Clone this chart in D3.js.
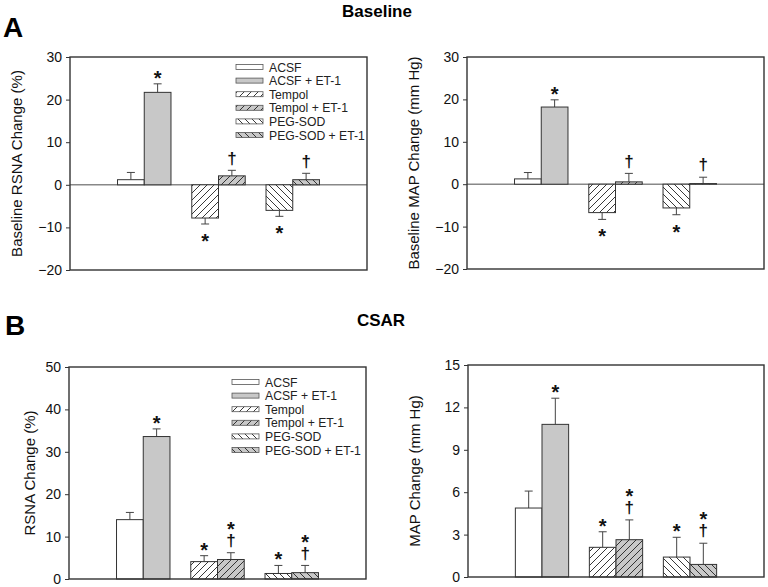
<!DOCTYPE html>
<html><head><meta charset="utf-8">
<script src="https://cdn.jsdelivr.net/npm/d3@7"></script>
<style>
body{margin:0;background:#fff}
#wrap{position:relative;width:768px;height:587px}
svg{display:block;font-family:"Liberation Sans",Arial,sans-serif}
.mk{position:absolute;width:40px;text-align:center;white-space:pre;font-family:"Liberation Sans",Arial,sans-serif;
  font-weight:bold;color:#111;font-size:17px;line-height:12px}
.mk.sf::first-line{font-size:20px}
</style>
</head><body><div id="wrap"><svg id="c" width="768" height="587"></svg></div>
<script>
// ---- data ----
const categories = ["ACSF","ACSF + ET-1","Tempol","Tempol + ET-1","PEG-SOD","PEG-SOD + ET-1"];
const fills = ["white","gray","fwdWhite","fwdGray","bwdWhite","bwdGray"];

const baseRsna = [1.2, 21.7, -7.8, 2.1, -6.0, 1.2];
const baseRsnaErr = [1.7, 2.0, 1.4, 1.3, 1.4, 1.5];
const baseRsnaMarks = ["", "*", "*", "†", "*", "†"];

const baseMap = [1.25, 18.2, -6.7, 0.55, -5.6, 0.15];
const baseMapErr = [1.5, 1.7, 1.6, 2.0, 1.6, 1.5];
const baseMapMarks = ["", "*", "*", "†", "*", "†"];

const csarRsna = [14.0, 33.6, 4.1, 4.6, 1.3, 1.5];
const csarRsnaErr = [1.7, 1.8, 1.4, 1.6, 1.9, 1.7];
const csarRsnaMarks = ["", "*", "*", "*†", "*", "*†"];

const csarMap = [4.88, 10.8, 2.1, 2.64, 1.41, 0.89];
const csarMapErr = [1.2, 1.85, 1.1, 1.4, 1.4, 1.5];
const csarMapMarks = ["", "*", "*", "*†", "*", "*†"];

const ticksBase = [-20, -10, 0, 10, 20, 30];
const ticksCsarRsna = [0, 10, 20, 30, 40, 50];
const ticksCsarMap = [0, 3, 6, 9, 12, 15];

// ---- drawing ----
const svg = d3.select("#c");
const wrap = d3.select("#wrap");
const defs = svg.append("defs");
function hatch(id, bg, dir){
  const p = defs.append("pattern").attr("id", id).attr("patternUnits","userSpaceOnUse")
    .attr("width", 7).attr("height", 7);
  p.append("rect").attr("width",7).attr("height",7).attr("fill",bg);
  const d = dir > 0 ? "M-1,1 L1,-1 M0,7 L7,0 M6,8 L8,6" : "M-1,6 L1,8 M0,0 L7,7 M6,-1 L8,1";
  p.append("path").attr("d", d).attr("stroke","#222").attr("stroke-width",0.9);
}
const GRAY = "#c8c8c8";
hatch("fwdWhite","#fff",1); hatch("fwdGray",GRAY,1);
hatch("bwdWhite","#fff",-1); hatch("bwdGray",GRAY,-1);
function fillOf(k){ return k==="white"?"#fff":k==="gray"?GRAY:`url(#${k})`; }

// glyph-center offset inside a 12px line box (Liberation Sans metrics)
const LH = 12;
function glyphOff(ch, firstLineStar){
  const fs = (ch==="*" && firstLineStar) ? 20 : 17;
  const base = (LH - 1.117*fs)/2 + 0.905*fs;
  return ch==="*" ? base - 0.59*fs : base - 0.3*fs;
}

function panel(o){
  const {x0,x1,y0,y1,domain,ticks,vals,errs,marks,label,legend} = o;
  const g = svg.append("g");
  const x = d3.scaleLinear().domain([0,4]).range([x0,x1]);
  const y = d3.scaleLinear().domain(domain).range([y1,y0]);
  const bw = x(0.36) - x(0);
  // y axis
  const ax = g.append("g").attr("transform",`translate(${x0},0)`)
    .call(d3.axisLeft(y).tickValues(ticks).tickSize(4).tickPadding(4));
  ax.select(".domain").remove();
  ax.selectAll("line").attr("stroke","#333");
  ax.selectAll("text").attr("font-size",14).attr("fill","#111").attr("font-family","Liberation Sans, Arial");
  // zero line
  if (domain[0] < 0) g.append("line").attr("x1",x0).attr("x2",x1).attr("y1",y(0)).attr("y2",y(0))
    .attr("stroke","#888").attr("stroke-width",1.5);
  // bars
  vals.forEach((v,i)=>{
    const grp = Math.floor(i/2)+1, side = i%2;
    const bx = side===0 ? x(grp)-bw : x(grp);
    const top = Math.min(y(v), y(0)), h = Math.abs(y(v)-y(0));
    const cx = bx + bw/2;
    const cap = y(v + (v>=0?1:-1)*errs[i]);
    g.append("line").attr("x1",cx).attr("x2",cx).attr("y1",y(v)).attr("y2",cap).attr("stroke","#444").attr("stroke-width",1);
    g.append("line").attr("x1",cx-4).attr("x2",cx+4).attr("y1",cap).attr("y2",cap).attr("stroke","#444").attr("stroke-width",1);
    g.append("rect").attr("x",bx).attr("y",top).attr("width",bw).attr("height",h)
      .attr("fill",fillOf(fills[i])).attr("stroke","#333").attr("stroke-width",1);
    // marks: one text block, symbols stacked (first char on top)
    const m = marks[i];
    if (m){
      const chars = m.split("");
      const sf = chars[0]==="*";
      const n = chars.length;
      let T;
      if (v >= 0) {
        const bottomC = cap - 11;
        T = bottomC - (n-1)*LH - glyphOff(chars[n-1], sf && n===1);
      } else {
        const topC = cap + 12;
        T = topC - glyphOff(chars[0], sf);
      }
      wrap.append("div").attr("class", "mk" + (sf ? " sf" : ""))
        .style("left", (cx-20)+"px").style("top", T+"px").text(chars.join("\n"));
    }
  });
  // frame
  g.append("rect").attr("x",x0).attr("y",y0).attr("width",x1-x0).attr("height",y1-y0)
    .attr("fill","none").attr("stroke","#333").attr("stroke-width",1.4);
  // y label
  g.append("text").attr("transform",`translate(${o.lx},${(y0+y1)/2}) rotate(-90)`)
    .attr("text-anchor","middle").attr("font-size",15).attr("fill","#111").text(label);
  // legend
  if (legend){
    categories.forEach((c,i)=>{
      const ly = legend.y + i*13.6;
      g.append("rect").attr("x",legend.x).attr("y",ly-2.5).attr("width",27).attr("height",5)
        .attr("fill",fillOf(fills[i])).attr("stroke","#555").attr("stroke-width",0.8);
      g.append("text").attr("x",legend.x+33).attr("y",ly+4.5).attr("font-size",12.2).attr("fill","#222").text(c);
    });
  }
}

panel({x0:70,x1:367,y0:57,y1:270,domain:[-20,30],ticks:ticksBase,vals:baseRsna,errs:baseRsnaErr,marks:baseRsnaMarks,
  label:"Baseline RSNA Change (%)",lx:22,legend:{x:236,y:67}});
panel({x0:467,x1:764,y0:57,y1:269,domain:[-20,30],ticks:ticksBase,vals:baseMap,errs:baseMapErr,marks:baseMapMarks,
  label:"Baseline MAP Change (mm Hg)",lx:419});
panel({x0:69,x1:366,y0:367,y1:579,domain:[0,50],ticks:ticksCsarRsna,vals:csarRsna,errs:csarRsnaErr,marks:csarRsnaMarks,
  label:"RSNA Change (%)",lx:35,legend:{x:232,y:382}});
panel({x0:468,x1:764,y0:365,y1:577,domain:[0,15],ticks:ticksCsarMap,vals:csarMap,errs:csarMapErr,marks:csarMapMarks,
  label:"MAP Change (mm Hg)",lx:420});

svg.append("text").attr("x",377).attr("y",17).attr("text-anchor","middle").attr("font-size",17).attr("font-weight","bold").text("Baseline");
svg.append("text").attr("x",381).attr("y",326).attr("text-anchor","middle").attr("font-size",17).attr("font-weight","bold").text("CSAR");
svg.append("text").attr("x",3).attr("y",37).attr("font-size",28).attr("font-weight","bold").text("A");
svg.append("text").attr("x",5).attr("y",335).attr("font-size",28).attr("font-weight","bold").text("B");
</script></body></html>
